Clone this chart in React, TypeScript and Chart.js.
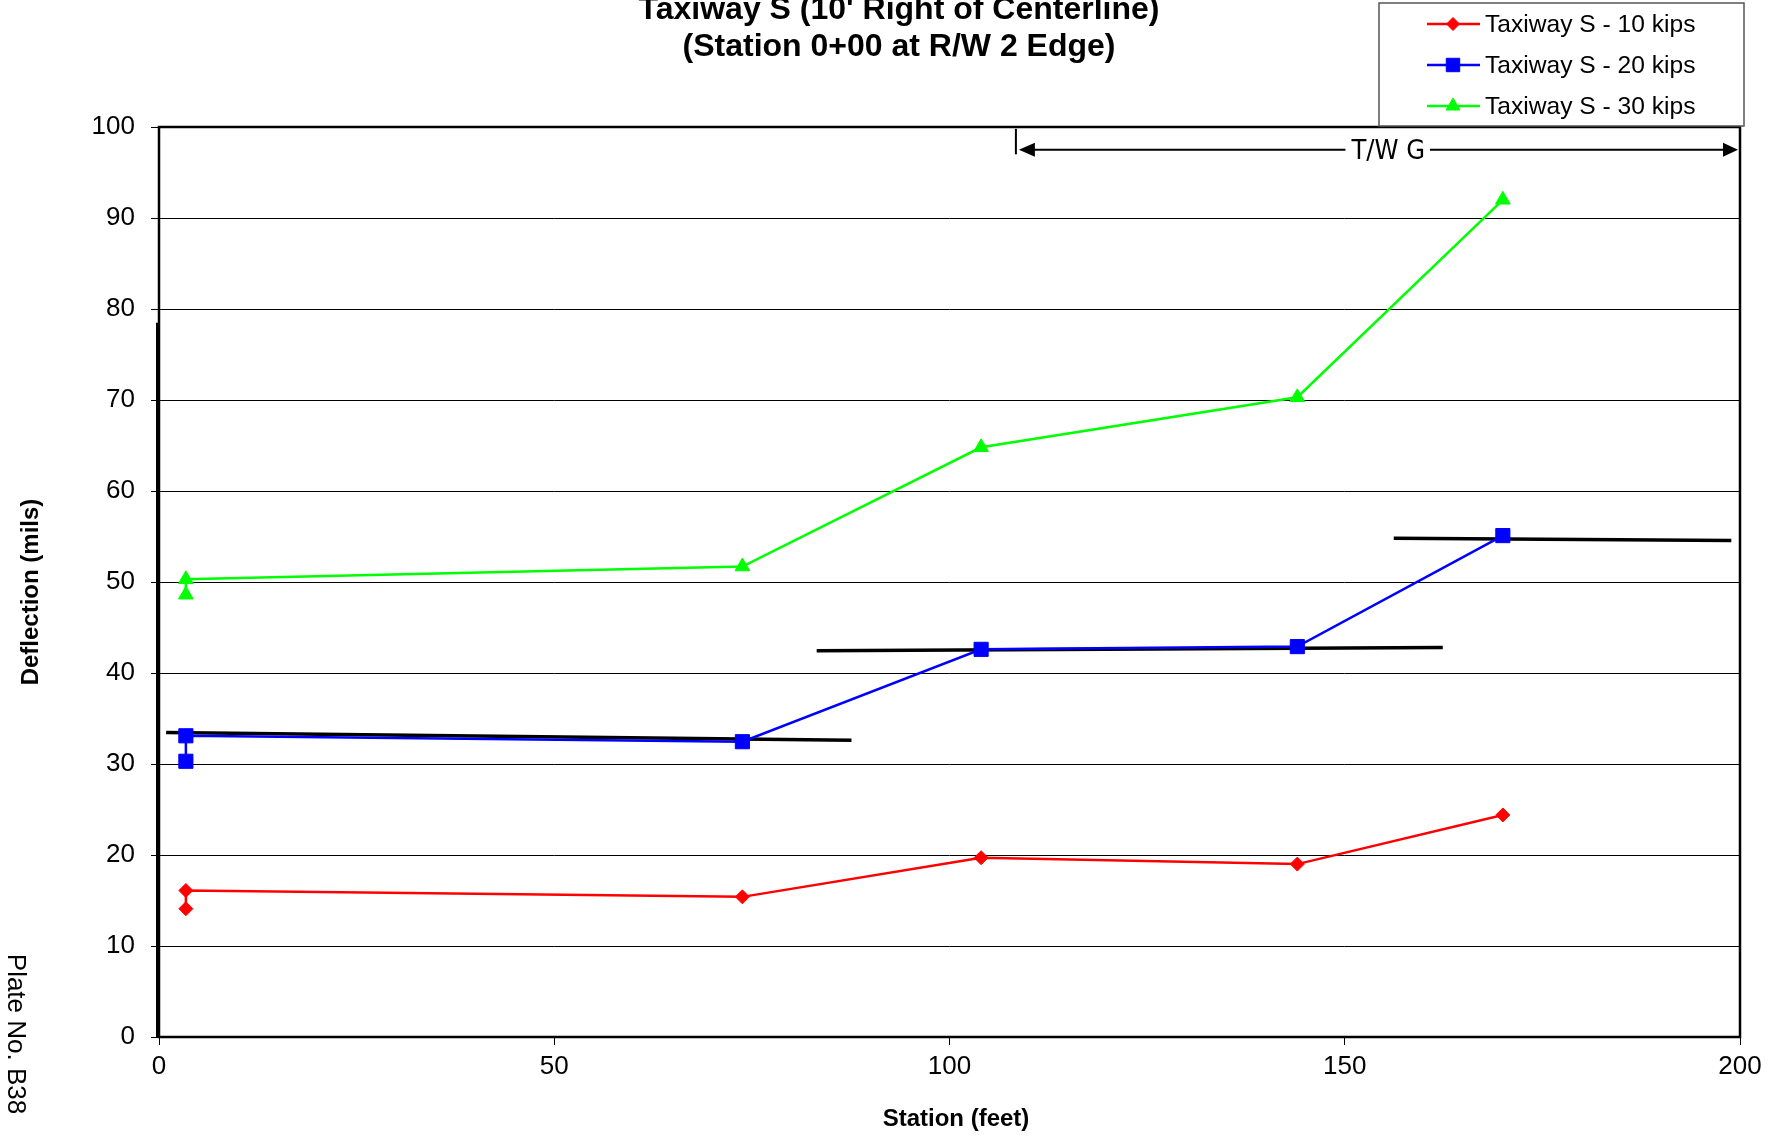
import React, { useEffect, useRef } from "react";
import { Chart, registerables } from "chart.js";

Chart.register(...registerables);

// ---- Data ----
const stations = [3.4, 3.4, 73.8, 104, 144, 170];
const kips10 = [14.1, 16.1, 15.4, 19.7, 19.0, 24.4];
const kips20 = [30.3, 33.1, 32.45, 42.6, 42.9, 55.1];
const kips30 = [48.6, 50.3, 51.7, 64.8, 70.3, 92.0];
const seriesLabels = ["Taxiway S - 10 kips", "Taxiway S - 20 kips", "Taxiway S - 30 kips"];
const seriesColors = ["#FF0000", "#0000FF", "#00FF00"];
const seriesShapes = ["rectRot", "rect", "triangle"];
const seriesRadii = [7, 10, 8.5];

const trend1X = [0.9, 87.6];
const trend1Y = [33.45, 32.6];
const trend2X = [83.2, 162.4];
const trend2Y = [42.45, 42.8];
const trend3X = [156.2, 198.9];
const trend3Y = [54.8, 54.55];

const twgRange = [108.4, 200];
const twgLevel = 97.5;
const twgTick = [99.8, 97.0];
const twgLabelAt = 155.5;
const twgLabel = "T/W G";

const xTicks = [0, 50, 100, 150, 200];
const yTicks = [0, 10, 20, 30, 40, 50, 60, 70, 80, 90, 100];

const titleLines = ["Taxiway S (10' Right of Centerline)", "(Station 0+00 at R/W 2 Edge)"];
const xTitle = "Station (feet)";
const yTitle = "Deflection (mils)";
const plateLabel = "Plate No. B38";

const FONT = "'Liberation Sans', Arial, sans-serif";

const W = 1781;
const H = 1136;

function pts(xs: number[], ys: number[]) {
  return xs.map((x, i) => ({ x, y: ys[i] }));
}

function drawShape(ctx: CanvasRenderingContext2D, shape: string, x: number, y: number, r: number, color: string) {
  ctx.save();
  ctx.fillStyle = color;
  ctx.strokeStyle = color;
  ctx.lineWidth = 1;
  ctx.beginPath();
  if (shape === "rectRot") {
    ctx.moveTo(x - r, y);
    ctx.lineTo(x, y - r);
    ctx.lineTo(x + r, y);
    ctx.lineTo(x, y + r);
  } else if (shape === "rect") {
    const s = r * Math.SQRT1_2;
    ctx.rect(x - s, y - s, 2 * s, 2 * s);
  } else {
    let a = 0;
    ctx.moveTo(x + Math.sin(a) * r, y - Math.cos(a) * r);
    a += (2 * Math.PI) / 3;
    ctx.lineTo(x + Math.sin(a) * r, y - Math.cos(a) * r);
    a += (2 * Math.PI) / 3;
    ctx.lineTo(x + Math.sin(a) * r, y - Math.cos(a) * r);
  }
  ctx.closePath();
  ctx.fill();
  ctx.stroke();
  ctx.restore();
}

const decorPlugin = {
  id: "decor",
  afterDraw(chart: any) {
    const ctx: CanvasRenderingContext2D = chart.ctx;
    const { left, right, top, bottom } = chart.chartArea;
    const xs = chart.scales.x;
    const ys = chart.scales.y;
    ctx.save();

    // plot border
    ctx.strokeStyle = "#000";
    ctx.lineWidth = 2.5;
    ctx.strokeRect(left, top, right - left, bottom - top);
    ctx.lineWidth = 4;
    ctx.beginPath();
    ctx.moveTo(left - 1, ys.getPixelForValue(78.5));
    ctx.lineTo(left - 1, bottom);
    ctx.stroke();

    // T/W G annotation
    const ax0 = xs.getPixelForValue(twgRange[0]);
    const ax1 = xs.getPixelForValue(twgRange[1]);
    const ay = ys.getPixelForValue(twgLevel);
    ctx.font = "27px 'DejaVu Sans Condensed', 'DejaVu Sans', sans-serif";
    ctx.textAlign = "center";
    ctx.textBaseline = "middle";
    const tw = ctx.measureText(twgLabel).width;
    const tcx = xs.getPixelForValue(twgLabelAt);
    ctx.fillStyle = "#000";
    ctx.fillText(twgLabel, tcx, ay + 2);
    ctx.lineWidth = 2;
    ctx.beginPath();
    ctx.moveTo(ax0 + 16, ay);
    ctx.lineTo(tcx - tw / 2 - 6, ay);
    ctx.moveTo(tcx + tw / 2 + 5, ay);
    ctx.lineTo(ax1 - 16, ay);
    ctx.stroke();
    // tick
    ctx.lineWidth = 2;
    ctx.beginPath();
    ctx.moveTo(ax0, ys.getPixelForValue(twgTick[0]));
    ctx.lineTo(ax0, ys.getPixelForValue(twgTick[1]));
    ctx.stroke();
    // heads
    ctx.beginPath();
    ctx.moveTo(ax0 + 3, ay);
    ctx.lineTo(ax0 + 19, ay - 7);
    ctx.lineTo(ax0 + 19, ay + 7);
    ctx.closePath();
    ctx.fill();
    ctx.beginPath();
    ctx.moveTo(ax1 - 2, ay);
    ctx.lineTo(ax1 - 17, ay - 7);
    ctx.lineTo(ax1 - 17, ay + 7);
    ctx.closePath();
    ctx.fill();

    // legend
    const lx = 1379, ly = 3, lw = 365, lh = 123;
    ctx.fillStyle = "#fff";
    ctx.fillRect(lx, ly, lw, lh);
    ctx.strokeStyle = "#555";
    ctx.lineWidth = 1.5;
    ctx.strokeRect(lx, ly, lw, lh);
    ctx.font = `24.6px ${FONT}`;
    ctx.textAlign = "left";
    ctx.textBaseline = "middle";
    const rowY = [24, 65, 106];
    for (let i = 0; i < 3; i++) {
      const ds = chart.data.datasets[i];
      const y = rowY[i];
      ctx.strokeStyle = ds.borderColor;
      ctx.lineWidth = 2.5;
      ctx.beginPath();
      ctx.moveTo(1427, y);
      ctx.lineTo(1480, y);
      ctx.stroke();
      drawShape(ctx, seriesShapes[i], 1453, y, seriesRadii[i] - 0.5, ds.borderColor);
      ctx.fillStyle = "#000";
      ctx.fillText(ds.label, 1485, y + 1);
    }

    // title
    ctx.fillStyle = "#000";
    ctx.textAlign = "center";
    ctx.textBaseline = "middle";
    ctx.font = `bold 32px ${FONT}`;
    ctx.fillText(titleLines[0], 899, 10);
    ctx.fillText(titleLines[1], 899, 47);

    // axis titles
    ctx.font = `bold 24px ${FONT}`;
    ctx.fillText(xTitle, 956, 1119);
    ctx.save();
    ctx.translate(31, 592);
    ctx.rotate(-Math.PI / 2);
    ctx.fillText(yTitle, 0, 0);
    ctx.restore();

    // plate label
    ctx.save();
    ctx.font = `26px ${FONT}`;
    ctx.translate(15, 1034);
    ctx.rotate(Math.PI / 2);
    ctx.fillText(plateLabel, 0, 0);
    ctx.restore();

    ctx.restore();
  },
};

export default function App() {
  const ref = useRef<HTMLCanvasElement>(null);

  useEffect(() => {
    document.body.style.margin = "0";
    const canvas = ref.current!;
    const series = [kips10, kips20, kips30];
    const datasets: any[] = series.map((vals, i) => ({
      label: seriesLabels[i],
      data: pts(stations, vals),
      showLine: true,
      borderColor: seriesColors[i],
      backgroundColor: seriesColors[i],
      borderWidth: 2.5,
      pointStyle: seriesShapes[i],
      pointRadius: seriesRadii[i],
      pointBorderWidth: 1,
      pointHoverRadius: 0,
    }));
    const trends = [
      [trend1X, trend1Y],
      [trend2X, trend2Y],
      [trend3X, trend3Y],
    ];
    trends.forEach(([tx, ty], i) => {
      datasets.push({
        label: "trend" + i,
        data: pts(tx, ty),
        showLine: true,
        borderColor: "#000",
        backgroundColor: "#000",
        borderWidth: 3.5,
        pointRadius: 0,
      });
    });

    const chart = new Chart(canvas, {
      type: "scatter",
      data: { datasets },
      options: {
        animation: false,
        responsive: false,
        devicePixelRatio: 1,
        layout: { padding: { left: 0, top: 127, right: 41, bottom: 0 } },
        plugins: {
          legend: { display: false },
          title: { display: false },
          tooltip: { enabled: false },
        },
        events: [],
        scales: {
          x: {
            type: "linear",
            min: 0,
            max: 200,
            afterFit: (s: any) => {
              s.height = H - 1037;
            },
            afterBuildTicks: (s: any) => {
              s.ticks = xTicks.map((v) => ({ value: v }));
            },
            border: { display: false },
            grid: {
              drawOnChartArea: false,
              drawTicks: true,
              tickLength: 8,
              color: "#000",
              lineWidth: 1,
            },
            ticks: {
              color: "#000",
              font: { family: FONT, size: 26 },
              padding: 6,
              maxRotation: 0,
            },
          },
          y: {
            type: "linear",
            min: 0,
            max: 100,
            afterFit: (s: any) => {
              s.width = 159;
            },
            afterBuildTicks: (s: any) => {
              s.ticks = yTicks.map((v) => ({ value: v }));
            },
            border: { display: false },
            grid: {
              drawTicks: true,
              tickLength: 8,
              color: "#000",
              lineWidth: 1,
            },
            ticks: {
              color: "#000",
              font: { family: FONT, size: 26 },
              padding: 16,
            },
          },
        },
      },
      plugins: [decorPlugin],
    } as any);
    return () => chart.destroy();
  }, []);

  return <canvas ref={ref} width={W} height={H} style={{ display: "block", width: W, height: H }} />;
}
